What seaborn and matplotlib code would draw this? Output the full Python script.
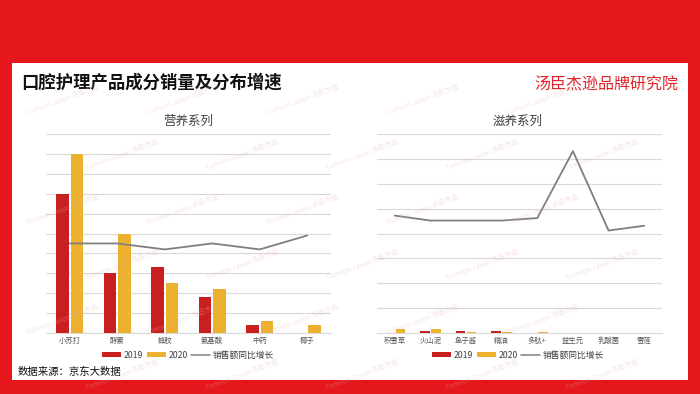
import numpy as np
import pandas as pd
import matplotlib
matplotlib.use("Agg")
import matplotlib.pyplot as plt
import seaborn as sns
from matplotlib.patches import Patch, Rectangle
from matplotlib.lines import Line2D

# ---------------- data ----------------
title = "口腔护理产品成分销量及分布增速"
brand = "汤臣杰逊品牌研究院"
source = "数据来源：京东大数据"
left_title = "营养系列"
right_title = "滋养系列"
years = ["2019", "2020"]
growth_label = "销售额同比增长"
watermark = "Tomson Jason 汤臣杰逊"

left_cats = ["小苏打", "酵素", "蜂胶", "氨基酸", "中药", "椰子"]
left_2019 = [7.0, 3.0, 3.3, 1.8, 0.4, 0.0]
left_2020 = [9.0, 5.0, 2.5, 2.2, 0.6, 0.4]
left_growth = [4.5, 4.5, 4.2, 4.5, 4.2, 4.9]

right_cats = ["积雪草", "火山泥", "鱼子酱", "精油", "多肽+", "益生元", "乳酸菌", "雪莲"]
right_2019 = [0.0, 0.08, 0.08, 0.08, 0.0, 0.0, 0.0, 0.0]
right_2020 = [0.18, 0.18, 0.05, 0.05, 0.06, 0.0, 0.0, 0.0]
right_growth = [4.72, 4.52, 4.52, 4.52, 4.62, 7.31, 4.12, 4.31]

# ---------------- style ----------------
sns.set_style("white")
plt.rcParams['font.family'] = ['Noto Sans CJK SC', 'DejaVu Sans']

RED_BG = "#E5161C"
C2019 = "#C81F1F"
C2020 = "#ECB12E"
LINE_C = "#7F7F7F"
GRID_C = "#D9D9D9"
palette = {years[0]: C2019, years[1]: C2020}

W, H = 700, 394
fig = plt.figure(figsize=(W / 100, H / 100), dpi=100)
fig.patch.set_facecolor(RED_BG)

# white panel
fig.patches.append(Rectangle((12 / W, 1 - 380 / H), 676 / W, 317 / H,
                             transform=fig.transFigure, facecolor="white",
                             edgecolor="none", zorder=-5))


def make_df(cats, a, b):
    return pd.DataFrame({
        "cat": cats * 2,
        "year": [years[0]] * len(cats) + [years[1]] * len(cats),
        "value": list(a) + list(b),
    })


def draw(ax, cats, a, b, growth, ymax, subtitle, cx):
    df = make_df(cats, a, b)
    sns.barplot(data=df, x="cat", y="value", hue="year", order=cats,
                hue_order=years, palette=palette, width=0.62, gap=0.14,
                ax=ax, legend=False, errorbar=None, saturation=1,
                linewidth=0, zorder=3)
    gdf = pd.DataFrame({"cat": cats, "g": growth})
    sns.pointplot(data=gdf, x="cat", y="g", order=cats, color=LINE_C,
                  markers="", linewidth=1.3, errorbar=None, ax=ax, zorder=4)
    ax.set_ylim(0, ymax)
    ax.set_xlim(-0.5, len(cats) - 0.5)
    ax.set_yticks(np.arange(0, ymax + 0.01, 1))
    ax.set_yticklabels([])
    ax.tick_params(axis="y", length=0)
    ax.tick_params(axis="x", length=0, labelsize=5.3, labelcolor="#595959", pad=3)
    ax.yaxis.grid(True, color=GRID_C, linewidth=0.8, zorder=0)
    ax.set_axisbelow(True)
    for s in ["top", "right", "left"]:
        ax.spines[s].set_visible(False)
    ax.spines["bottom"].set_color(GRID_C)
    ax.spines["bottom"].set_linewidth(0.8)
    ax.set_xlabel("")
    ax.set_ylabel("")
    ax.set_facecolor("none")
    fig.text(cx / W, 1 - 121 / H, subtitle, ha="center", va="center",
             fontsize=9, color="#404040")
    handles = [Patch(facecolor=C2019, edgecolor="none"),
               Patch(facecolor=C2020, edgecolor="none"),
               Line2D([0], [0], color=LINE_C, linewidth=1.1)]
    fig.legend(handles, years + [growth_label], loc="center",
               bbox_to_anchor=(cx / W, 1 - 355 / H), ncol=3, frameon=False,
               fontsize=6.3, handlelength=2.2, handleheight=0.6,
               handletextpad=0.3, columnspacing=0.4, labelcolor="#404040")


ax1 = fig.add_axes([46 / W, 1 - 333 / H, 285 / W, 199 / H])
draw(ax1, left_cats, left_2019, left_2020, left_growth, 10, left_title, 188)

ax2 = fig.add_axes([377 / W, 1 - 333 / H, 285 / W, 199 / H])
draw(ax2, right_cats, right_2019, right_2020, right_growth, 8, right_title, 518)

# titles and notes
fig.text(21 / W, 1 - 83 / H, title, ha="left", va="center", fontsize=12.5,
         fontweight="bold", color="#111111")
fig.text(678 / W, 1 - 85 / H, brand, ha="right", va="center", fontsize=11.5,
         color="#E0242A")
fig.text(18 / W, 1 - 372 / H, source, ha="left", va="center", fontsize=7.5,
         color="#111111")

# faint watermarks
for r, yy in enumerate(range(100, 380, 55)):
    off = 0 if r % 2 == 0 else 60
    for xx in range(25 + off, 620, 120):
        fig.text(xx / W, 1 - yy / H, watermark, ha="left", va="center",
                 fontsize=5, color="#EBB0B0", alpha=0.35, rotation=20,
                 zorder=10)

fig.savefig("out.png", dpi=100, facecolor=fig.get_facecolor())
